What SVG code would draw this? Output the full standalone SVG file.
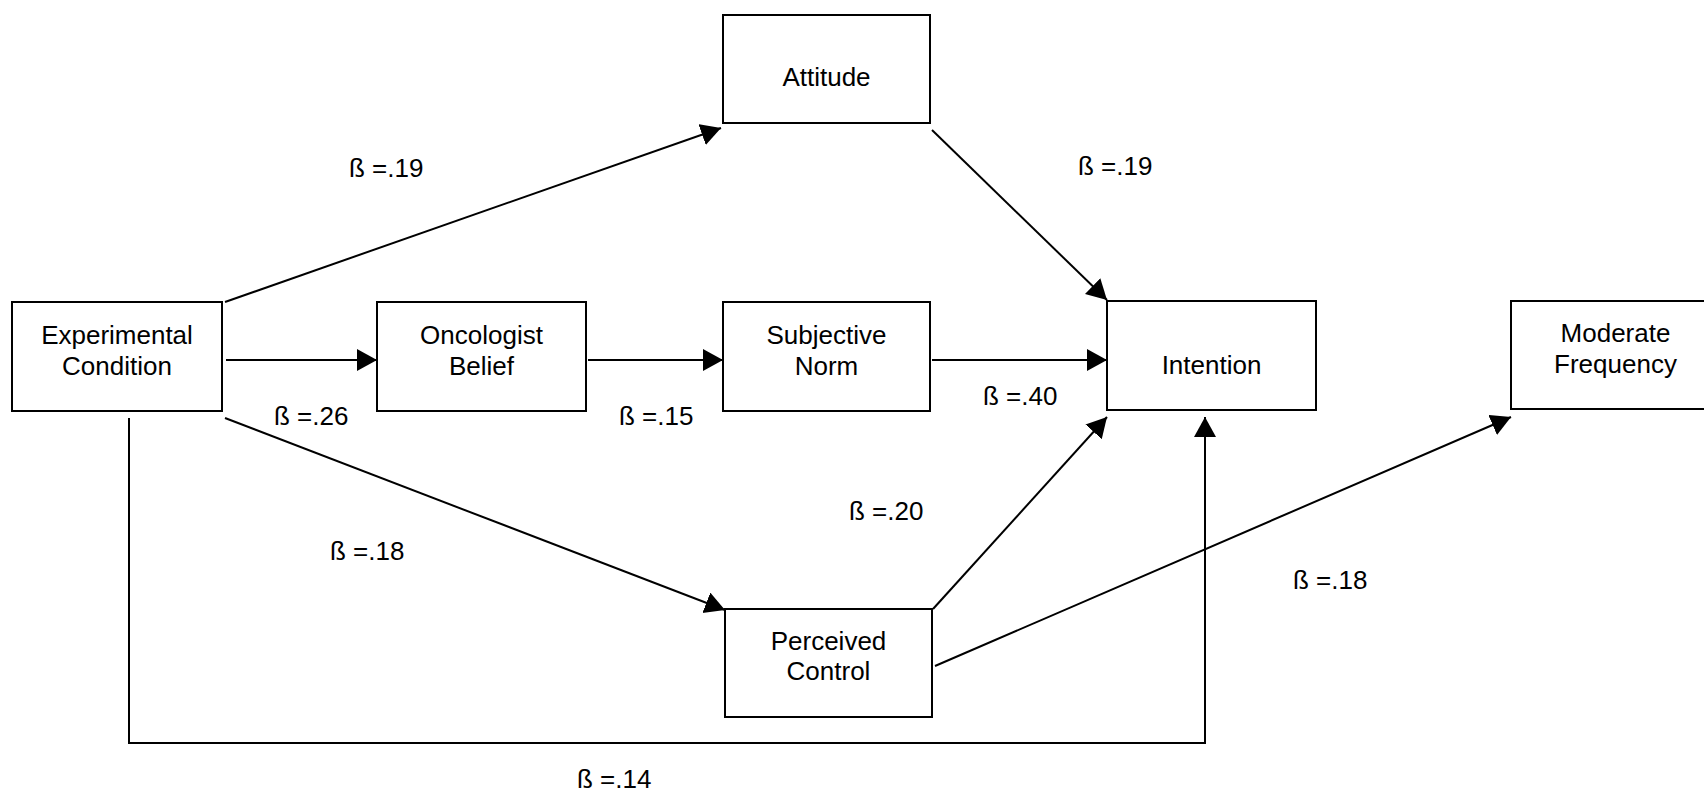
<svg xmlns="http://www.w3.org/2000/svg" width="1704" height="794" viewBox="0 0 1704 794">
<style>
.box{fill:#fff;stroke:#000;stroke-width:2}
.t{font-family:"Liberation Sans",Arial,sans-serif;font-size:26px;fill:#000;text-anchor:middle}
.lbl{font-family:"Liberation Sans",Arial,sans-serif;font-size:26px;fill:#000}
.c{fill:none;stroke:#000;stroke-width:2}
</style>
<defs>
<marker id="ah" markerUnits="userSpaceOnUse" markerWidth="22" markerHeight="24" refX="20" refY="11" orient="auto">
<path d="M0,0 L20,11 L0,22 z" fill="#000"/>
</marker>
</defs>
<rect width="1704" height="794" fill="#fff"/>
<g id="connectors">
<path class="c" d="M225,302 L721,128" marker-end="url(#ah)"/>
<path class="c" d="M226,360 L377,360" marker-end="url(#ah)"/>
<path class="c" d="M588,360 L723,360" marker-end="url(#ah)"/>
<path class="c" d="M932,360 L1107,360" marker-end="url(#ah)"/>
<path class="c" d="M932,130 L1107,300" marker-end="url(#ah)"/>
<path class="c" d="M225,418 L725,610" marker-end="url(#ah)"/>
<path class="c" d="M933,609 L1107,417" marker-end="url(#ah)"/>
<path class="c" d="M935,666 L1511,417" marker-end="url(#ah)"/>
<path class="c" d="M129,418 L129,743 L1205,743 L1205,417" marker-end="url(#ah)"/>
</g>
<g id="labels">
<text class="lbl" x="349" y="177">ß =.19</text>
<text class="lbl" x="1078" y="175">ß =.19</text>
<text class="lbl" x="274" y="425">ß =.26</text>
<text class="lbl" x="619" y="425">ß =.15</text>
<text class="lbl" x="983" y="405">ß =.40</text>
<text class="lbl" x="330" y="560">ß =.18</text>
<text class="lbl" x="849" y="520">ß =.20</text>
<text class="lbl" x="1293" y="589">ß =.18</text>
<text class="lbl" x="577" y="788">ß =.14</text>
</g>
<g id="node-experimental">
<rect class="box" x="12" y="302" width="210" height="109"/>
<text class="t" x="117" y="344">Experimental</text>
<text class="t" x="117" y="375">Condition</text>
</g>
<g id="node-oncologist">
<rect class="box" x="377" y="302" width="209" height="109"/>
<text class="t" x="481.5" y="344">Oncologist</text>
<text class="t" x="481.5" y="375">Belief</text>
</g>
<g id="node-subjective">
<rect class="box" x="723" y="302" width="207" height="109"/>
<text class="t" x="826.5" y="344">Subjective</text>
<text class="t" x="826.5" y="375">Norm</text>
</g>
<g id="node-attitude">
<rect class="box" x="723" y="15" width="207" height="108"/>
<text class="t" x="826.5" y="86">Attitude</text>
</g>
<g id="node-intention">
<rect class="box" x="1107" y="301" width="209" height="109"/>
<text class="t" x="1211.5" y="374">Intention</text>
</g>
<g id="node-moderate">
<rect class="box" x="1511" y="301" width="209" height="108"/>
<text class="t" x="1615.5" y="342">Moderate</text>
<text class="t" x="1615.5" y="373">Frequency</text>
</g>
<g id="node-perceived">
<rect class="box" x="725" y="609" width="207" height="108"/>
<text class="t" x="828.5" y="650">Perceived</text>
<text class="t" x="828.5" y="680">Control</text>
</g>
</svg>
